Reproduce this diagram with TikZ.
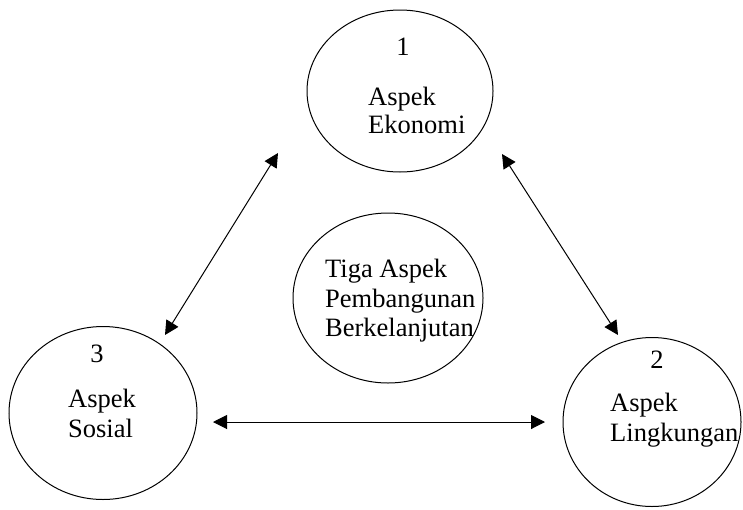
\documentclass[tikz,border=0pt]{standalone}
\usepackage{fontspec}
\setmainfont{Liberation Serif}
\usetikzlibrary{shapes.geometric,arrows.meta}
\begin{document}
\begin{tikzpicture}[x=1pt,y=-1pt,
  ring/.style={draw, ellipse, line width=1pt, inner sep=0pt},
  lbl/.style={font=\fontsize{26.5}{30}\selectfont, inner sep=0pt, anchor=base west, text=black},
  num/.style={font=\fontsize{26.5}{30}\selectfont, inner sep=0pt, anchor=base, text=black},
  link/.style={line width=1pt, {Triangle[length=14pt,width=14pt]}-{Triangle[length=14pt,width=14pt]}}]
\useasboundingbox (0,0) rectangle (743,509);
% circles
\node[ring, minimum width=186pt, minimum height=162pt] (eko) at (400,91) {};
\node[ring, minimum width=188pt, minimum height=173pt] (sos) at (103,413) {};
\node[ring, minimum width=178pt, minimum height=169pt] (lin) at (652,422) {};
\node[ring, minimum width=190pt, minimum height=170pt] (tiga) at (388,298) {};
% texts
\node[num] (n1) at (403,55) {1};
\node[lbl] (e1) at (368,105) {Aspek};
\node[lbl] (e2) at (368,133) {Ekonomi};
\node[num] (n3) at (97,362) {3};
\node[lbl] (s1) at (68,407) {Aspek};
\node[lbl] (s2) at (68,437) {Sosial};
\node[num] (n2) at (657,368) {2};
\node[lbl] (l1) at (610,411) {Aspek};
\node[lbl] (l2) at (610,441) {Lingkungan};
\node[lbl] (t1) at (325,277) {Tiga Aspek};
\node[lbl] (t2) at (325,307) {Pembangunan};
\node[lbl] (t3) at (325,336) {Berkelanjutan};
% arrow ends
\coordinate (a1s) at (278,153);
\coordinate (a1e) at (165,335);
\coordinate (a2s) at (502,154);
\coordinate (a2e) at (618,335);
\coordinate (a3s) at (213,422);
\coordinate (a3e) at (545,422);
\draw[link] (a1s) -- (a1e);
\draw[link] (a2s) -- (a2e);
\draw[link] (a3s) -- (a3e);
\end{tikzpicture}
\end{document}
